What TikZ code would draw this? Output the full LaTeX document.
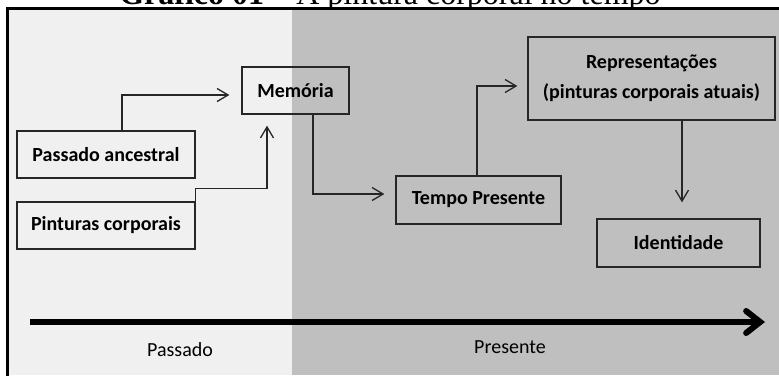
\documentclass[tikz,border=0pt]{standalone}
\usepackage{fontspec}
\setmainfont{Carlito}
\newfontfamily\titlefont{Liberation Serif}
\usetikzlibrary{arrows.meta}
\definecolor{lightbg}{HTML}{F0F0F0}
\definecolor{darkbg}{HTML}{BFBFBF}
\begin{document}
\begin{tikzpicture}[x=1pt,y=-1pt,
 box/.style={draw=black!85, line width=1.3pt, inner sep=0pt, align=center,
   font=\bfseries\fontsize{20}{30}\selectfont},
 conn/.style={draw=black!85, line width=1.3pt, -{Straight Barb[length=11pt,width=13pt]}},
 lbl/.style={font=\fontsize{20}{24}\selectfont, inner sep=0pt},
]
\useasboundingbox (0,0) rectangle (779,375);
\clip (0,0) rectangle (779,375);
\fill[white] (0,0) rectangle (779,375);
\node[anchor=base, font=\titlefont\fontsize{32}{36}\selectfont, inner sep=0pt] (title) at (390,4)
  {\textbf{Gráfico 01 –} A pintura corporal no tempo};
\fill[lightbg] (7,9) rectangle (292,375);
\fill[darkbg] (292,9) rectangle (779,375);
\draw[line width=3.5pt] (7.5,376) -- (7.5,8.5) -- (780,8.5);

\node[box, minimum width=178pt, minimum height=47pt] (pa) at (106,154.5) {Passado ancestral};
\node[box, minimum width=178pt, minimum height=47pt] (pc) at (106,225.5) {Pinturas corporais};
\node[box, minimum width=107pt, minimum height=47pt] (mem) at (295.5,90.5) {Memória};
\node[box, minimum width=165pt, minimum height=48pt] (tp) at (478.5,200) {Tempo Presente};
\node[box, minimum width=247pt, minimum height=83pt] (rep) at (651.5,78.5) {Representações\\(pinturas corporais atuais)};
\node[box, minimum width=163pt, minimum height=48pt] (id) at (678.5,243) {Identidade};

\coordinate (m1) at ([xshift=-12pt,yshift=-4.5pt]mem.west);
\coordinate (m2) at ([xshift=-28.5pt,yshift=-11pt]mem.south);
\draw[conn] ([xshift=16pt]pa.north) |- (m1);
\draw[conn] (pc.north east) -- ([yshift=13pt]pc.north east) -| (m2);
\draw[conn] ([xshift=17.5pt]mem.south) |- ([xshift=-11pt,yshift=6pt]tp.west);
\draw[conn] ([xshift=-1.5pt]tp.north) |- ([xshift=-10pt,yshift=-7.5pt]rep.west);
\draw[conn] ([xshift=30.5pt]rep.south) -- ([xshift=3.5pt,yshift=16pt]id.north);

\coordinate (t0) at (30,322);
\coordinate (t1) at (765,322);
\draw[line width=6pt, -{Straight Barb[length=14pt,width=22pt,line cap=round]}] (t0) -- (t1);
\node[lbl] (past) at (180,350) {Passado};
\node[lbl] (pres) at (510,347) {Presente};
\end{tikzpicture}
\end{document}
